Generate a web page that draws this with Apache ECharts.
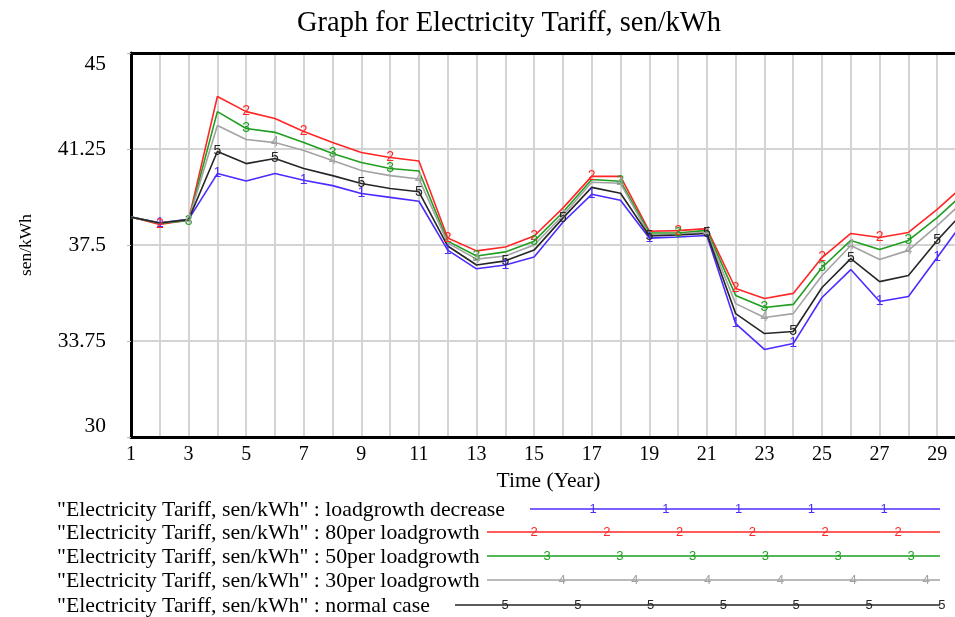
<!DOCTYPE html>
<html>
<head>
<meta charset="utf-8">
<script src="https://cdn.jsdelivr.net/npm/echarts@6/dist/echarts.min.js"></script>
<style>
  html, body { margin: 0; padding: 0; background: #fff; }
  #chart { width: 955px; height: 617px; }
</style>
</head>
<body>
<div id="chart"></div>
<script>
// years on the x axis
const years = [1, 2, 3, 4, 5, 6, 7, 8, 9, 10, 11, 12, 13, 14, 15, 16, 17, 18, 19, 20, 21, 22, 23, 24, 25, 26, 27, 28, 29, 30];
const yTicks = [30, 33.75, 37.5, 41.25, 45];

// sen/kWh per scenario
const loadgrowthDecrease = [38.59, 38.37, 38.50, 40.29, 40.00, 40.29, 40.03, 39.82, 39.51, 39.36, 39.21, 37.30, 36.57, 36.72, 37.03, 38.39, 39.48, 39.25, 37.77, 37.81, 37.87, 34.43, 33.42, 33.65, 35.45, 36.54, 35.29, 35.49, 37.01, 38.55];
const per80 = [38.59, 38.30, 38.48, 43.30, 42.71, 42.44, 41.93, 41.50, 41.11, 40.92, 40.78, 37.77, 37.27, 37.42, 37.85, 38.94, 40.18, 40.18, 38.04, 38.06, 38.14, 35.80, 35.41, 35.61, 37.01, 37.95, 37.79, 37.99, 38.89, 39.90];
const per50 = [38.59, 38.35, 38.45, 42.71, 42.05, 41.90, 41.50, 41.07, 40.72, 40.49, 40.39, 37.65, 37.07, 37.23, 37.65, 38.78, 40.06, 39.99, 37.97, 37.97, 38.07, 35.53, 35.06, 35.18, 36.62, 37.68, 37.32, 37.68, 38.57, 39.60];
const per30 = [38.59, 38.36, 38.48, 42.17, 41.62, 41.50, 41.19, 40.80, 40.41, 40.21, 40.08, 37.58, 36.95, 37.07, 37.50, 38.65, 39.95, 39.91, 37.89, 37.93, 38.00, 35.21, 34.67, 34.82, 36.31, 37.48, 36.93, 37.29, 38.26, 39.30];
const normalCase = [38.59, 38.36, 38.49, 41.15, 40.68, 40.88, 40.49, 40.21, 39.90, 39.71, 39.58, 37.46, 36.72, 36.88, 37.30, 38.55, 39.75, 39.52, 37.85, 37.89, 37.95, 34.82, 34.04, 34.12, 35.84, 36.97, 36.07, 36.31, 37.68, 38.90];

// years where vensim puts the series number on the line
const marks1 = [2, 4, 7, 9, 12, 14, 17, 19, 22, 24, 27, 29];
const marks2 = [2, 5, 7, 10, 12, 15, 17, 20, 22, 25, 27, 30];
const marks3 = [3, 5, 8, 10, 13, 15, 18, 20, 23, 25, 28, 30];
const marks4 = [3, 6, 8, 11, 13, 16, 18, 21, 23, 26, 28];
const marks5 = [4, 6, 9, 11, 14, 16, 19, 21, 24, 26, 29];

const names = [
  '"Electricity Tariff, sen/kWh" : loadgrowth decrease',
  '"Electricity Tariff, sen/kWh" : 80per loadgrowth',
  '"Electricity Tariff, sen/kWh" : 50per loadgrowth',
  '"Electricity Tariff, sen/kWh" : 30per loadgrowth',
  '"Electricity Tariff, sen/kWh" : normal case',
];
const colors = ["#4a2cff", "#ff2626", "#1f9e1f", "#a3a3a3", "#262626"];

const serif = '"Liberation Serif", "DejaVu Serif", serif';

function buildData(values, marks, digit) {
  return values.map((v, i) => {
    const item = { value: [years[i], v] };
    if (marks.includes(years[i])) {
      item.symbol = "circle";
      item.symbolSize = 1;
      item.label = { show: true, formatter: digit };
    }
    return item;
  });
}

const seriesValues = [loadgrowthDecrease, per80, per50, per30, normalCase];
const seriesMarks = [marks1, marks2, marks3, marks4, marks5];

// legend drawn by hand: text, long line sample and digits along it
const legendRows = [
  { y: 509, lineStart: 530, firstDigit: 593 },
  { y: 532, lineStart: 487, firstDigit: 534 },
  { y: 556, lineStart: 487, firstDigit: 547 },
  { y: 580, lineStart: 487, firstDigit: 562 },
  { y: 605, lineStart: 455, firstDigit: 505 },
];
const legendGraphics = [];
legendRows.forEach((r, i) => {
  legendGraphics.push({
    type: "text",
    x: 57,
    y: r.y + 1,
    style: { text: names[i], font: "21.8px " + serif, fill: "#000", verticalAlign: "middle" },
  });
  legendGraphics.push({
    type: "line",
    shape: { x1: r.lineStart, y1: r.y, x2: 940, y2: r.y },
    style: { stroke: colors[i], lineWidth: 1.5 },
  });
  for (let x = r.firstDigit; x <= 944; x += 72.8) {
    legendGraphics.push({
      type: "text",
      x: x,
      y: r.y,
      style: {
        text: String(i + 1),
        font: "13px Arial, sans-serif",
        fill: colors[i],
        align: "center",
        verticalAlign: "middle",
      },
    });
  }
});

const chart = echarts.init(document.getElementById("chart"));
chart.setOption({
  animation: false,
  backgroundColor: "#fff",
  title: {
    text: "Graph for Electricity Tariff, sen/kWh",
    left: 292,
    top: 4,
    textStyle: { fontFamily: serif, fontSize: 28.5, fontWeight: "normal", color: "#000" },
  },
  grid: {
    left: 131,
    top: 53,
    width: 835,
    height: 384,
    outerBoundsMode: "none",
  },
  xAxis: [
    {
      type: "value",
      min: 1,
      max: 30,
      interval: 1,
      name: "Time (Year)",
      nameLocation: "middle",
      nameGap: 33,
      nameTextStyle: { fontFamily: serif, fontSize: 21.5, color: "#000" },
      axisLine: { lineStyle: { color: "#000", width: 3 } },
      axisTick: { show: false },
      axisLabel: {
        fontFamily: serif,
        fontSize: 20,
        color: "#000",
        margin: 8,
        formatter: (v) => (v % 2 === 1 ? String(v) : ""),
      },
      splitLine: { showMinLine: false, lineStyle: { color: "#d4d4d4", width: 2 } },
    },
    {
      // black frame line along the top
      type: "value",
      position: "top",
      min: 1,
      max: 30,
      axisLine: { show: true, onZero: false, lineStyle: { color: "#000", width: 3 } },
      axisTick: { show: false },
      axisLabel: { show: false },
      splitLine: { show: false },
    },
  ],
  yAxis: {
    type: "value",
    min: yTicks[0],
    max: yTicks[yTicks.length - 1],
    interval: 3.75,
    name: "sen/kWh",
    nameLocation: "middle",
    nameGap: 96,
    nameTextStyle: { fontFamily: serif, fontSize: 17.5, color: "#000" },
    axisLine: { show: true, lineStyle: { color: "#000", width: 3 } },
    axisTick: { show: true, length: 4, lineStyle: { color: "#bbb" } },
    axisLabel: {
      fontFamily: serif,
      fontSize: 21.5,
      color: "#000",
      margin: 25,
      verticalAlignMinLabel: "bottom",
      verticalAlignMaxLabel: "top",
    },
    splitLine: {
      showMinLine: false,
      showMaxLine: false,
      lineStyle: { color: "#d4d4d4", width: 2 },
    },
  },
  series: seriesValues.map((vals, i) => ({
    name: names[i],
    type: "line",
    symbol: "none",
    data: buildData(vals, seriesMarks[i], String(i + 1)),
    lineStyle: { color: colors[i], width: 1.6 },
    itemStyle: { color: "transparent" },
    label: {
      position: "inside",
      color: colors[i],
      fontSize: 14,
      fontFamily: "Arial, sans-serif",
    },
    emphasis: { disabled: true },
  })),
  graphic: legendGraphics,
});
</script>
</body>
</html>
